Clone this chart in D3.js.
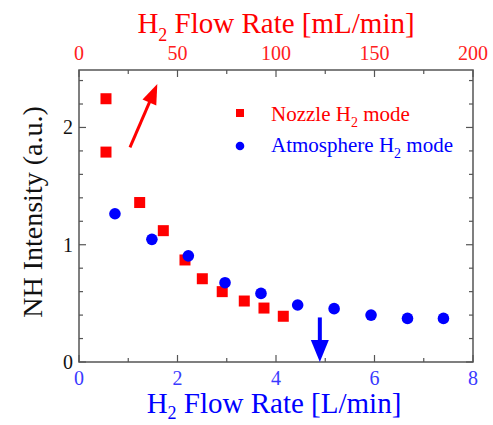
<!DOCTYPE html>
<html><head><meta charset="utf-8">
<script src="https://cdn.jsdelivr.net/npm/d3@7"></script>
<style>body{margin:0;background:#fff}svg{display:block;font-family:"Liberation Serif","Times New Roman",serif}</style>
</head><body><svg id="c" width="493" height="425"></svg>
<script>
// Data (bottom axis L/min, top axis mL/min)
const nozzleFlow = [13.7, 13.7, 30.8, 42.8, 53.8, 62.6, 72.7, 83.9, 93.9, 103.7]; // mL/min (top axis)
const nozzleNH   = [2.245, 1.79, 1.36, 1.12, 0.87, 0.71, 0.60, 0.52, 0.46, 0.39];
const atmFlow    = [0.73, 1.48, 2.22, 2.965, 3.695, 4.44, 5.18, 5.93, 6.67, 7.40]; // L/min (bottom axis)
const atmNH      = [1.264, 1.046, 0.905, 0.676, 0.585, 0.486, 0.455, 0.40, 0.372, 0.372];
const bottomTicks = [0, 2, 4, 6, 8];
const topTicks = [0, 50, 100, 150, 200];
const yTicks = [0, 1, 2];
const redArrow = {x1: 1.035, y1: 1.83, x2: 1.59, y2: 2.37};   // in L/min, a.u.
const blueArrow = {x1: 4.89, y1: 0.38, x2: 4.89, y2: 0.0};

const svg = d3.select("#c");
const L = 79, R = 473, T = 70, B = 362;
const x = d3.scaleLinear().domain([0, 8]).range([L, R]);
const xTop = d3.scaleLinear().domain([0, 200]).range([L, R]);
const y = d3.scaleLinear().domain([0, 2.49]).range([B, T]);
const RED = "#ff0000", BLUE = "#0000ff", AX = "#555";

// frame
svg.append("rect").attr("x", L).attr("y", T).attr("width", R - L).attr("height", B - T)
  .attr("fill", "none").attr("stroke", AX).attr("stroke-width", 1.5);

// inward ticks
const g = svg.append("g").attr("stroke", AX).attr("stroke-width", 1.2);
d3.range(0, 8.01, 1).forEach((v, i) => {
  const len = i % 2 === 0 ? 7 : 4;
  g.append("line").attr("x1", x(v)).attr("x2", x(v)).attr("y1", B).attr("y2", B - len);
});
d3.range(0, 200.1, 25).forEach((v, i) => {
  const len = i % 2 === 0 ? 7 : 4;
  g.append("line").attr("x1", xTop(v)).attr("x2", xTop(v)).attr("y1", T).attr("y2", T + len);
});
d3.range(0, 2.41, 0.2).forEach(v => {
  const major = Math.abs(v - Math.round(v)) < 1e-6;
  const len = major ? 7 : 4;
  g.append("line").attr("x1", L).attr("x2", L + len).attr("y1", y(v)).attr("y2", y(v));
  g.append("line").attr("x1", R).attr("x2", R - len).attr("y1", y(v)).attr("y2", y(v));
});

// tick labels
svg.selectAll(".bt").data(bottomTicks).join("text").attr("x", d => x(d)).attr("y", 385)
  .attr("text-anchor", "middle").attr("font-size", 20).attr("fill", "#3a3aff").text(d => d);
svg.selectAll(".tt").data(topTicks).join("text").attr("x", d => xTop(d)).attr("y", 60)
  .attr("text-anchor", "middle").attr("font-size", 20).attr("fill", "#ff2020").text(d => d);
svg.selectAll(".yt").data(yTicks).join("text").attr("x", 73).attr("y", d => y(d) + 7)
  .attr("text-anchor", "end").attr("font-size", 20).attr("fill", "#111").text(d => d);

// titles
function h2title(sel, xx, yy, rest, color, size, sub) {
  const t = sel.append("text").attr("x", xx).attr("y", yy).attr("text-anchor", "middle")
    .attr("font-size", size).attr("fill", color);
  t.append("tspan").text("H");
  t.append("tspan").attr("font-size", size * 0.62).attr("dy", size * sub).text("2");
  t.append("tspan").attr("dy", -size * sub).text(rest);
  return t;
}
h2title(svg, 276, 33, " Flow Rate [mL/min]", RED, 29, 0.28);
h2title(svg, 274, 413, " Flow Rate [L/min]", BLUE, 29, 0.2);
svg.append("text").attr("transform", "translate(42,212) rotate(-90)").attr("text-anchor", "middle")
  .attr("font-size", 28).attr("fill", "#111").text("NH Intensity (a.u.)");

// data
const s = 11;
svg.selectAll(".sq").data(nozzleFlow.map((f, i) => [f, nozzleNH[i]])).join("rect")
  .attr("x", d => xTop(d[0]) - s / 2).attr("y", d => y(d[1]) - s / 2)
  .attr("width", s).attr("height", s).attr("fill", RED);
svg.selectAll(".ci").data(atmFlow.map((f, i) => [f, atmNH[i]])).join("circle")
  .attr("cx", d => x(d[0])).attr("cy", d => y(d[1])).attr("r", 5.8).attr("fill", BLUE);

// arrows
function arrow(a, color, w, hl, hw) {
  const x1 = x(a.x1), y1 = y(a.y1), x2 = x(a.x2), y2 = y(a.y2);
  const dx = x2 - x1, dy = y2 - y1, len = Math.hypot(dx, dy), ux = dx / len, uy = dy / len;
  const bx = x2 - ux * hl, by = y2 - uy * hl;
  svg.append("line").attr("x1", x1).attr("y1", y1).attr("x2", bx + ux * 2).attr("y2", by + uy * 2)
    .attr("stroke", color).attr("stroke-width", w);
  svg.append("path").attr("d", `M${x2},${y2}L${bx - uy * hw / 2},${by + ux * hw / 2}L${bx + uy * hw / 2},${by - ux * hw / 2}Z`)
    .attr("fill", color);
}
arrow(redArrow, RED, 3, 20, 15);
arrow(blueArrow, BLUE, 4, 22, 18);

// legend
svg.append("rect").attr("x", 236).attr("y", 109).attr("width", 8).attr("height", 8).attr("fill", RED);
svg.append("circle").attr("cx", 240).attr("cy", 146).attr("r", 4.3).attr("fill", BLUE);
const lt1 = svg.append("text").attr("x", 271).attr("y", 121).attr("font-size", 21).attr("fill", RED);
lt1.append("tspan").text("Nozzle H");
lt1.append("tspan").attr("font-size", 14).attr("dy", 6).text("2");
lt1.append("tspan").attr("dy", -6).text(" mode");
const lt2 = svg.append("text").attr("x", 271).attr("y", 152).attr("font-size", 21).attr("fill", BLUE);
lt2.append("tspan").text("Atmosphere H");
lt2.append("tspan").attr("font-size", 14).attr("dy", 6).text("2");
lt2.append("tspan").attr("dy", -6).text(" mode");
</script></body></html>
